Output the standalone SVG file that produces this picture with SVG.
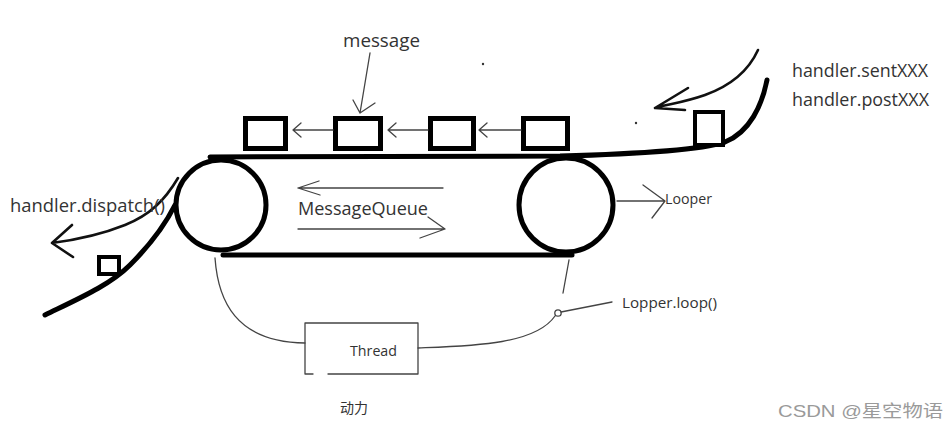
<svg xmlns="http://www.w3.org/2000/svg" width="952" height="430" viewBox="0 0 952 430">
<style>
.thick{fill:none;stroke:#000;stroke-width:5;stroke-linecap:round;stroke-linejoin:round}
.box{fill:#fff;stroke:#000;stroke-width:5}
.sbox{fill:#fff;stroke:#000;stroke-width:4}
.mid{fill:none;stroke:#111;stroke-width:2.6;stroke-linecap:round;stroke-linejoin:round}
.thin{fill:none;stroke:#444;stroke-width:1.3;stroke-linecap:round;stroke-linejoin:round}
.lbl{font-family:"Open Sans","Noto Sans","Noto Sans CJK SC",sans-serif;fill:#333}
.wm{font-family:"Liberation Sans","Noto Sans CJK SC",sans-serif;fill:#9a9a9a}
</style>
<rect width="952" height="430" fill="#fff"/>

<g id="conveyor">
  <path class="thick" d="M210,157 L560,156 C640,154 700,150 725,142 C750,132 762,105 767,80"/>
  <path class="thick" d="M223,255 L572,255"/>
  <path class="thick" d="M45,315 C80,298 110,285 130,265 C150,245 165,225 175,205"/>
</g>

<g id="roller-left"><circle class="thick" cx="221" cy="205" r="45"/></g>
<g id="roller-right"><circle class="thick" cx="566" cy="205" r="47"/></g>

<g id="msg1"><rect class="box" x="245.5" y="118.5" width="40" height="30"/></g>
<g id="msg2"><rect class="box" x="335.5" y="118.5" width="45" height="30"/></g>
<g id="msg3"><rect class="box" x="430.5" y="118.5" width="43" height="30"/></g>
<g id="msg4"><rect class="box" x="523.5" y="118.5" width="44" height="30"/></g>
<g id="msg-in"><rect class="sbox" x="695" y="112" width="28" height="33"/></g>
<g id="msg-out"><rect class="sbox" x="99" y="257" width="20" height="17"/></g>

<g id="thread">
  <path class="thin" d="M313,374 L305,374 L305,323 L418,323 L418,374 L328,374"/>
  <text class="lbl" x="350" y="356" font-size="14" textLength="47" lengthAdjust="spacingAndGlyphs">Thread</text>
</g>

<g id="connectors">
  <!-- queue arrows -->
  <path class="thin" d="M333,130 L293,130 M301,123 L293,130 L301,137"/>
  <path class="thin" d="M428,130 L388,130 M396,123 L388,130 L396,137"/>
  <path class="thin" d="M521,130 L479,130 M487,123 L479,130 L487,137"/>
  <!-- message pointer -->
  <path class="thin" d="M370,53 L360,113 M353,100 L360,113 L375,103"/>
  <!-- enqueue arrow -->
  <path class="mid" d="M758,50 C748,72 730,86 705,95 C685,102 670,104 655,108 M688,88 L655,108 L685,110"/>
  <!-- dispatch arrow -->
  <path class="mid" d="M178,178 C165,200 150,215 125,225 C100,235 75,240 52,243 M72,225 L52,243 L73,257"/>
  <!-- MessageQueue arrows -->
  <path class="thin" d="M443,188 L298,188 M319,181 L298,188 L320,195"/>
  <path class="thin" d="M298,229 L445,229 M428,217 L445,229 L420,238"/>
  <!-- Looper -->
  <path class="thin" d="M617,201 L665,201 M643,185 L665,201 L652,218"/>
  <!-- thread links -->
  <path class="thin" d="M215,258 C218,300 235,342 305,343"/>
  <path class="thin" d="M418,348 C470,346 535,345 555,316"/>
  <circle cx="558" cy="313" r="3.2" fill="#fff" stroke="#444" stroke-width="1.3"/>
  <path class="thin" d="M561,312 L612,302"/>
  <path class="thin" d="M563,293 L569,260"/>
</g>

<circle cx="636" cy="123" r="1.2" fill="#333"/>
<circle cx="483" cy="64" r="1.2" fill="#333"/>

<g id="labels">
  <text class="lbl" x="343" y="47" font-size="19" textLength="77" lengthAdjust="spacingAndGlyphs">message</text>
  <text class="lbl" x="792" y="77" font-size="18" textLength="136" lengthAdjust="spacingAndGlyphs">handler.sentXXX</text>
  <text class="lbl" x="792" y="106" font-size="18" textLength="137" lengthAdjust="spacingAndGlyphs">handler.postXXX</text>
  <text class="lbl" x="10" y="212" font-size="18" textLength="155" lengthAdjust="spacingAndGlyphs">handler.dispatch()</text>
  <text class="lbl" x="298" y="215" font-size="18" textLength="130" lengthAdjust="spacingAndGlyphs">MessageQueue</text>
  <text class="lbl" x="665" y="204" font-size="14" textLength="47" lengthAdjust="spacingAndGlyphs">Looper</text>
  <text class="lbl" x="622" y="308" font-size="15" textLength="95" lengthAdjust="spacingAndGlyphs">Lopper.loop()</text>
  <text class="lbl" x="340" y="413" font-size="14" font-family="'Noto Sans CJK SC',sans-serif">动力</text>
  <text class="wm" x="778" y="417" font-size="17" textLength="165" lengthAdjust="spacingAndGlyphs">CSDN @星空物语</text>
</g>
</svg>
